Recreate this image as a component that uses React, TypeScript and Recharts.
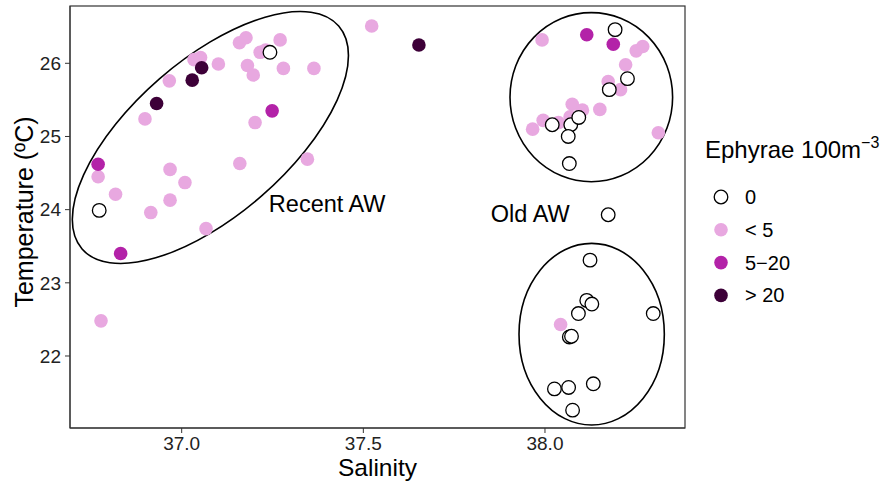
import * as R from 'recharts';
import {ScatterChart, Scatter, XAxis, YAxis, Customized} from 'recharts';

// salinity / temperature by ephyrae density class
const zeroPts = [
  {x: 36.773, y: 23.99}, {x: 37.243, y: 26.15},
  {x: 38.193, y: 26.46}, {x: 38.227, y: 25.79}, {x: 38.177, y: 25.64},
  {x: 38.02, y: 25.16}, {x: 38.071, y: 25.16}, {x: 38.093, y: 25.26},
  {x: 38.064, y: 25.0}, {x: 38.067, y: 24.63}, {x: 38.174, y: 23.93},
  {x: 38.124, y: 23.31}, {x: 38.115, y: 22.76}, {x: 38.129, y: 22.71},
  {x: 38.092, y: 22.58}, {x: 38.298, y: 22.58}, {x: 38.067, y: 22.26},
  {x: 38.073, y: 22.27}, {x: 38.026, y: 21.55}, {x: 38.065, y: 21.57},
  {x: 38.133, y: 21.62}, {x: 38.076, y: 21.26},
];

const lowPts = [
  {x: 36.77, y: 24.45}, {x: 36.818, y: 24.21}, {x: 36.915, y: 23.96},
  {x: 36.968, y: 24.55}, {x: 36.968, y: 24.13}, {x: 37.009, y: 24.37},
  {x: 37.067, y: 23.74}, {x: 36.899, y: 25.24}, {x: 36.966, y: 25.76},
  {x: 37.034, y: 26.05}, {x: 37.052, y: 26.08}, {x: 37.101, y: 25.99},
  {x: 37.159, y: 26.28}, {x: 37.177, y: 26.35}, {x: 37.181, y: 25.97},
  {x: 37.197, y: 25.84}, {x: 37.216, y: 26.15}, {x: 37.231, y: 26.18},
  {x: 37.271, y: 26.32}, {x: 37.28, y: 25.93}, {x: 37.364, y: 25.93},
  {x: 37.202, y: 25.19}, {x: 37.16, y: 24.63}, {x: 37.346, y: 24.69},
  {x: 36.778, y: 22.48}, {x: 37.523, y: 26.51}, {x: 37.992, y: 26.32},
  {x: 38.251, y: 26.17}, {x: 38.269, y: 26.23}, {x: 38.222, y: 25.98},
  {x: 38.174, y: 25.75}, {x: 38.208, y: 25.64}, {x: 38.075, y: 25.44},
  {x: 38.103, y: 25.36}, {x: 38.151, y: 25.37}, {x: 37.966, y: 25.1},
  {x: 37.995, y: 25.22}, {x: 38.037, y: 25.19}, {x: 38.069, y: 25.27},
  {x: 38.312, y: 25.05}, {x: 38.043, y: 22.43},
];

const midPts = [
  {x: 36.77, y: 24.62}, {x: 36.832, y: 23.4}, {x: 37.249, y: 25.35},
  {x: 38.115, y: 26.39}, {x: 38.188, y: 26.26},
];

const highPts = [
  {x: 36.931, y: 25.45}, {x: 37.029, y: 25.77}, {x: 37.055, y: 25.94},
  {x: 37.653, y: 26.25},
];

const xTicks = [37.0, 37.5, 38.0];
const yTicks = [22, 23, 24, 25, 26];
const X_DOMAIN = [36.6926, 38.3854];
const Y_DOMAIN = [21.016, 26.783];

const classes = [
  {label: '0', fill: '#ffffff', stroke: '#000000'},
  {label: '< 5', fill: '#E8A8E0', stroke: 'none'},
  {label: '5\u221220', fill: '#B322A8', stroke: 'none'},
  {label: '> 20', fill: '#3D0038', stroke: 'none'},
];

// water mass outlines: centre plus two half-axis vectors, in data units
const ellipses = [
  {cx: 37.079, cy: 24.986, ux: 0.3532, uy: 1.524, vx: 0.1404, vy: -0.801},
  {cx: 38.1275, cy: 25.537, ux: 0.2238, uy: 0, vx: 0, vy: 1.155},
  {cx: 38.1285, cy: 22.298, ux: 0.2, uy: 0, vx: 0, vy: 1.241},
];

const notes = [
  {text: 'Recent AW', x: 37.24, y: 23.968},
  {text: 'Old AW', x: 37.851, y: 23.831},
];

const FONT = '"Liberation Sans", Arial, sans-serif';
const W = 885;
const H = 487;

const dot = (fill: string, stroke: string) => (props: any) => (
  <circle cx={props.cx} cy={props.cy} r={6.8} fill={fill} stroke={stroke} strokeWidth={1.3} />
);

function Overlay() {
  const hookArea = (R as any).usePlotArea;
  const area = hookArea ? hookArea() : null;
  const p = area || {x: 70, y: 6, width: 615, height: 422};

  const toX = (v: number) => p.x + ((v - X_DOMAIN[0]) / (X_DOMAIN[1] - X_DOMAIN[0])) * p.width;
  const toY = (v: number) => p.y + ((Y_DOMAIN[1] - v) / (Y_DOMAIN[1] - Y_DOMAIN[0])) * p.height;
  const sx = p.width / (X_DOMAIN[1] - X_DOMAIN[0]);
  const sy = p.height / (Y_DOMAIN[1] - Y_DOMAIN[0]);

  const lx = p.x + p.width + 36;
  return (
    <g fontFamily={FONT}>
      {/* panel box */}
      <rect x={p.x} y={p.y} width={p.width} height={p.height} fill="none" stroke="#333" strokeWidth={1.2} />
      {ellipses.map((e, i) => {
        const cx = toX(e.cx);
        const cy = toY(e.cy);
        const ux = e.ux * sx, uy = -e.uy * sy;
        const vx = e.vx * sx, vy = -e.vy * sy;
        const rx = Math.hypot(ux, uy);
        const ry = Math.hypot(vx, vy);
        const ang = (Math.atan2(uy, ux) * 180) / Math.PI;
        return (
          <ellipse key={i} cx={cx} cy={cy} rx={rx} ry={ry}
            transform={`rotate(${ang} ${cx} ${cy})`}
            fill="none" stroke="#000" strokeWidth={1.6} />
        );
      })}
      {notes.map((n) => (
        <text key={n.text} x={toX(n.x)} y={toY(n.y)} fontSize={23.5} fill="#000">{n.text}</text>
      ))}
      <text x={p.x + p.width / 2} y={476} fontSize={24.5} textAnchor="middle" fill="#000">Salinity</text>
      <text transform={`translate(33 ${p.y + p.height / 2 - 5}) rotate(-90)`} fontSize={25} textAnchor="middle" fill="#000">
        Temperature (ºC)
      </text>
      {/* legend */}
      <text x={lx - 16} y={158} fontSize={24} fill="#000">
        Ephyrae 100m<tspan dy={-10} fontSize={16}>{'\u22123'}</tspan>
      </text>
      {classes.map((c, i) => (
        <g key={c.label}>
          <circle cx={lx} cy={197 + i * 32.8} r={6.8} fill={c.fill} stroke={c.stroke} strokeWidth={1.3} />
          <text x={lx + 24} y={197 + i * 32.8 + 7} fontSize={20} fill="#000">{c.label}</text>
        </g>
      ))}
    </g>
  );
}

export default function App() {
  return (
    <div style={{position: 'absolute', left: 0, top: 0, width: W, height: H, background: '#fff'}}>
      <ScatterChart width={W} height={H} margin={{top: 6, right: 200, bottom: 0, left: 20}}>
        <XAxis type="number" dataKey="x" domain={X_DOMAIN} ticks={xTicks} allowDataOverflow
          tickFormatter={(v: number) => v.toFixed(1)} height={59}
          tick={{fontSize: 19, fill: '#222', fontFamily: FONT}} tickLine={{stroke: '#333'}}
          axisLine={{stroke: '#333'}} tickSize={5} tickMargin={4} />
        <YAxis type="number" dataKey="y" domain={Y_DOMAIN} ticks={yTicks} allowDataOverflow width={50}
          tick={{fontSize: 19, fill: '#222', fontFamily: FONT}} tickLine={{stroke: '#333'}}
          axisLine={{stroke: '#333'}} tickSize={5} tickMargin={4} />
        <Customized component={<Overlay />} />
        <Scatter data={lowPts} isAnimationActive={false} shape={dot(classes[1].fill, 'none')} />
        <Scatter data={midPts} isAnimationActive={false} shape={dot(classes[2].fill, 'none')} />
        <Scatter data={highPts} isAnimationActive={false} shape={dot(classes[3].fill, 'none')} />
        <Scatter data={zeroPts} isAnimationActive={false} shape={dot('#ffffff', '#000')} />
      </ScatterChart>
    </div>
  );
}
